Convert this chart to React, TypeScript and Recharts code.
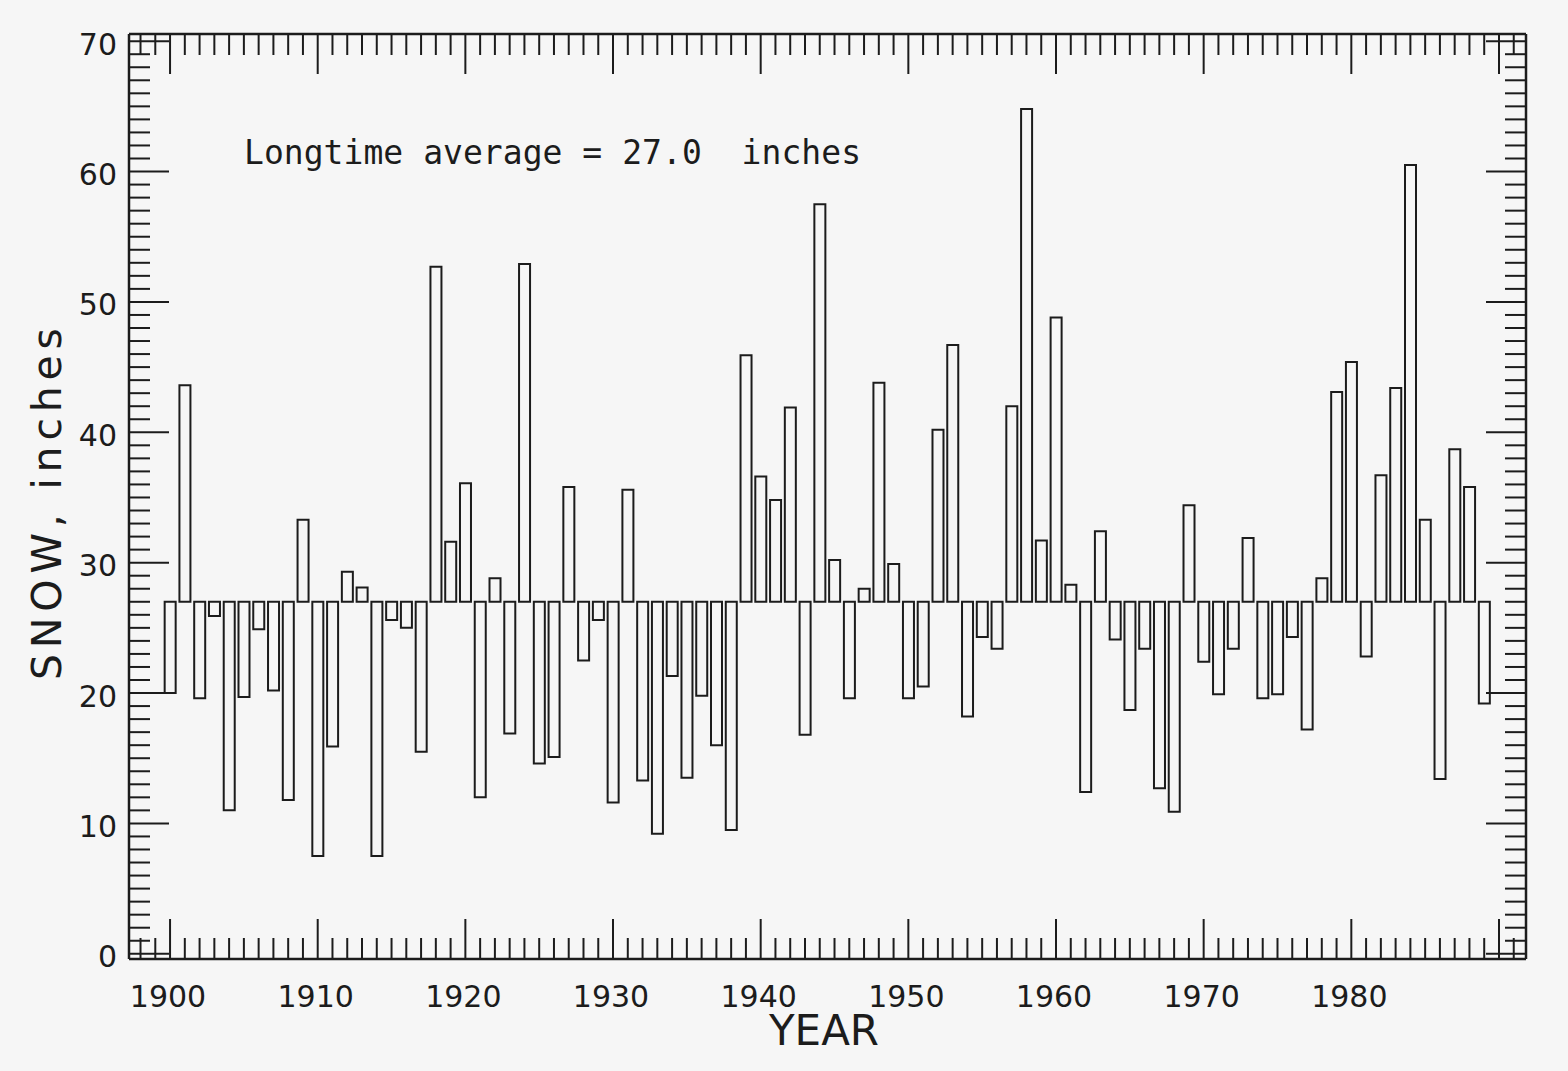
import { Bar, BarChart, XAxis, YAxis } from "recharts";

// seasonal snowfall, inches, one value per year 1900..1989
const years = [
  1900, 1901, 1902, 1903, 1904, 1905, 1906, 1907, 1908, 1909,
  1910, 1911, 1912, 1913, 1914, 1915, 1916, 1917, 1918, 1919,
  1920, 1921, 1922, 1923, 1924, 1925, 1926, 1927, 1928, 1929,
  1930, 1931, 1932, 1933, 1934, 1935, 1936, 1937, 1938, 1939,
  1940, 1941, 1942, 1943, 1944, 1945, 1946, 1947, 1948, 1949,
  1950, 1951, 1952, 1953, 1954, 1955, 1956, 1957, 1958, 1959,
  1960, 1961, 1962, 1963, 1964, 1965, 1966, 1967, 1968, 1969,
  1970, 1971, 1972, 1973, 1974, 1975, 1976, 1977, 1978, 1979,
  1980, 1981, 1982, 1983, 1984, 1985, 1986, 1987, 1988, 1989,
];

const snow = [
  20.0, 43.6, 19.6, 25.9, 11.0, 19.7, 24.9, 20.2, 11.8, 33.3,
  7.5, 15.9, 29.3, 28.1, 7.5, 25.6, 25.0, 15.5, 52.7, 31.6,
  36.1, 12.0, 28.8, 16.9, 52.9, 14.6, 15.1, 35.8, 22.5, 25.6,
  11.6, 35.6, 13.3, 9.2, 21.3, 13.5, 19.8, 16.0, 9.5, 45.9,
  36.6, 34.8, 41.9, 16.8, 57.5, 30.2, 19.6, 28.0, 43.8, 29.9,
  19.6, 20.5, 40.2, 46.7, 18.2, 24.3, 23.4, 42.0, 64.8, 31.7,
  48.8, 28.3, 12.4, 32.4, 24.1, 18.7, 23.4, 12.7, 10.9, 34.4,
  22.4, 19.9, 23.4, 31.9, 19.6, 19.9, 24.3, 17.2, 28.8, 43.1,
  45.4, 22.8, 36.7, 43.4, 60.5, 33.3, 13.4, 38.7, 35.8, 19.2,
];

const AVERAGE = 27.0;

const decadeLabels = [1900, 1910, 1920, 1930, 1940, 1950, 1960, 1970, 1980];
const snowLabels = [0, 10, 20, 30, 40, 50, 60, 70];

// one tick per year / per inch
const yearTicks = Array.from({ length: 94 }, (_, i) => 1898 + i);
const inchTicks = Array.from({ length: 71 }, (_, i) => i);

const data = years.map((year, i) => ({
  year,
  range: snow[i] >= AVERAGE ? [AVERAGE, snow[i]] : [snow[i], AVERAGE],
}));

const W = 1568;
const H = 1071;
const LEFT = 129;
const RIGHT = 1526;
const TOP = 34;
const BOTTOM = 959;
const MINOR = 21;
const MAJOR = 40;
const INK = "#1c1c1c";
const FONT = "'DejaVu Sans', sans-serif";

const BottomTick = (props: any) => {
  const { x, payload } = props;
  const v = payload.value;
  const major = v % 10 === 0;
  return (
    <g>
      <line x1={x} x2={x} y1={BOTTOM} y2={BOTTOM - (major ? MAJOR : MINOR)} stroke={INK} strokeWidth={2} />
      {decadeLabels.includes(v) && (
        <text x={x - 2} y={1007} textAnchor="middle" fontSize={30} fontFamily={FONT} fill={INK}>
          {v}
        </text>
      )}
    </g>
  );
};

const TopTick = (props: any) => {
  const { x, payload } = props;
  const major = payload.value % 10 === 0;
  return <line x1={x} x2={x} y1={TOP} y2={TOP + (major ? MAJOR : MINOR)} stroke={INK} strokeWidth={2} />;
};

const LeftTick = (props: any) => {
  const { y, payload } = props;
  const v = payload.value;
  const major = v % 10 === 0;
  return (
    <g>
      <line x1={LEFT} x2={LEFT + (major ? MAJOR : MINOR)} y1={y} y2={y} stroke={INK} strokeWidth={2} />
      {snowLabels.includes(v) && (
        <text x={LEFT - 12} y={y + 3} textAnchor="end" dominantBaseline="central" fontSize={30} fontFamily={FONT} fill={INK}>
          {v}
        </text>
      )}
    </g>
  );
};

const RightTick = (props: any) => {
  const { y, payload } = props;
  const major = payload.value % 10 === 0;
  return <line x1={RIGHT} x2={RIGHT - (major ? MAJOR : MINOR)} y1={y} y2={y} stroke={INK} strokeWidth={2} />;
};

export default function App() {
  return (
    <div style={{ position: "absolute", left: 0, top: 0, width: W, height: H, background: "#f6f6f6" }}>
      <BarChart
        width={W}
        height={H}
        data={data}
        margin={{ top: TOP - 30, right: W - RIGHT - 30, bottom: H - BOTTOM - 60, left: LEFT - 80 }}
      >
        <XAxis
          dataKey="year"
          type="number"
          domain={[1897.22, 1991.83]}
          allowDataOverflow
          ticks={yearTicks}
          interval={0}
          tick={<BottomTick />}
          tickLine={false}
          axisLine={{ stroke: INK, strokeWidth: 2.5 }}
          height={60}
        />
        <XAxis
          xAxisId="top"
          orientation="top"
          dataKey="year"
          type="number"
          domain={[1897.22, 1991.83]}
          allowDataOverflow
          ticks={yearTicks}
          interval={0}
          tick={<TopTick />}
          tickLine={false}
          axisLine={{ stroke: INK, strokeWidth: 2.5 }}
          height={30}
        />
        <YAxis
          type="number"
          domain={[-0.4, 70.55]}
          allowDataOverflow
          ticks={inchTicks}
          interval={0}
          tick={<LeftTick />}
          tickLine={false}
          axisLine={{ stroke: INK, strokeWidth: 2.5 }}
          width={80}
        />
        <YAxis
          yAxisId="right"
          orientation="right"
          type="number"
          domain={[-0.4, 70.55]}
          allowDataOverflow
          ticks={inchTicks}
          interval={0}
          tick={<RightTick />}
          tickLine={false}
          axisLine={{ stroke: INK, strokeWidth: 2.5 }}
          width={30}
        />
        <Bar dataKey="range" fill="none" stroke={INK} strokeWidth={2} barSize={11} isAnimationActive={false} />
      </BarChart>
      <svg width={W} height={H} style={{ position: "absolute", left: 0, top: 0, pointerEvents: "none" }}>
        <text x={244} y={164} fontSize={33} fontFamily="'DejaVu Sans Mono', monospace" fill={INK} textLength={617} lengthAdjust="spacing" xmlSpace="preserve">
          Longtime average = 27.0  inches
        </text>
        <text x={824} y={1045} textAnchor="middle" fontSize={42} fontFamily={FONT} fill={INK}>
          YEAR
        </text>
        <text
          transform="translate(61 504) rotate(-90)"
          textAnchor="middle"
          fontSize={41}
          fontFamily={FONT}
          fill={INK}
          textLength={352}
          lengthAdjust="spacing"
        >
          SNOW, inches
        </text>
      </svg>
    </div>
  );
}
